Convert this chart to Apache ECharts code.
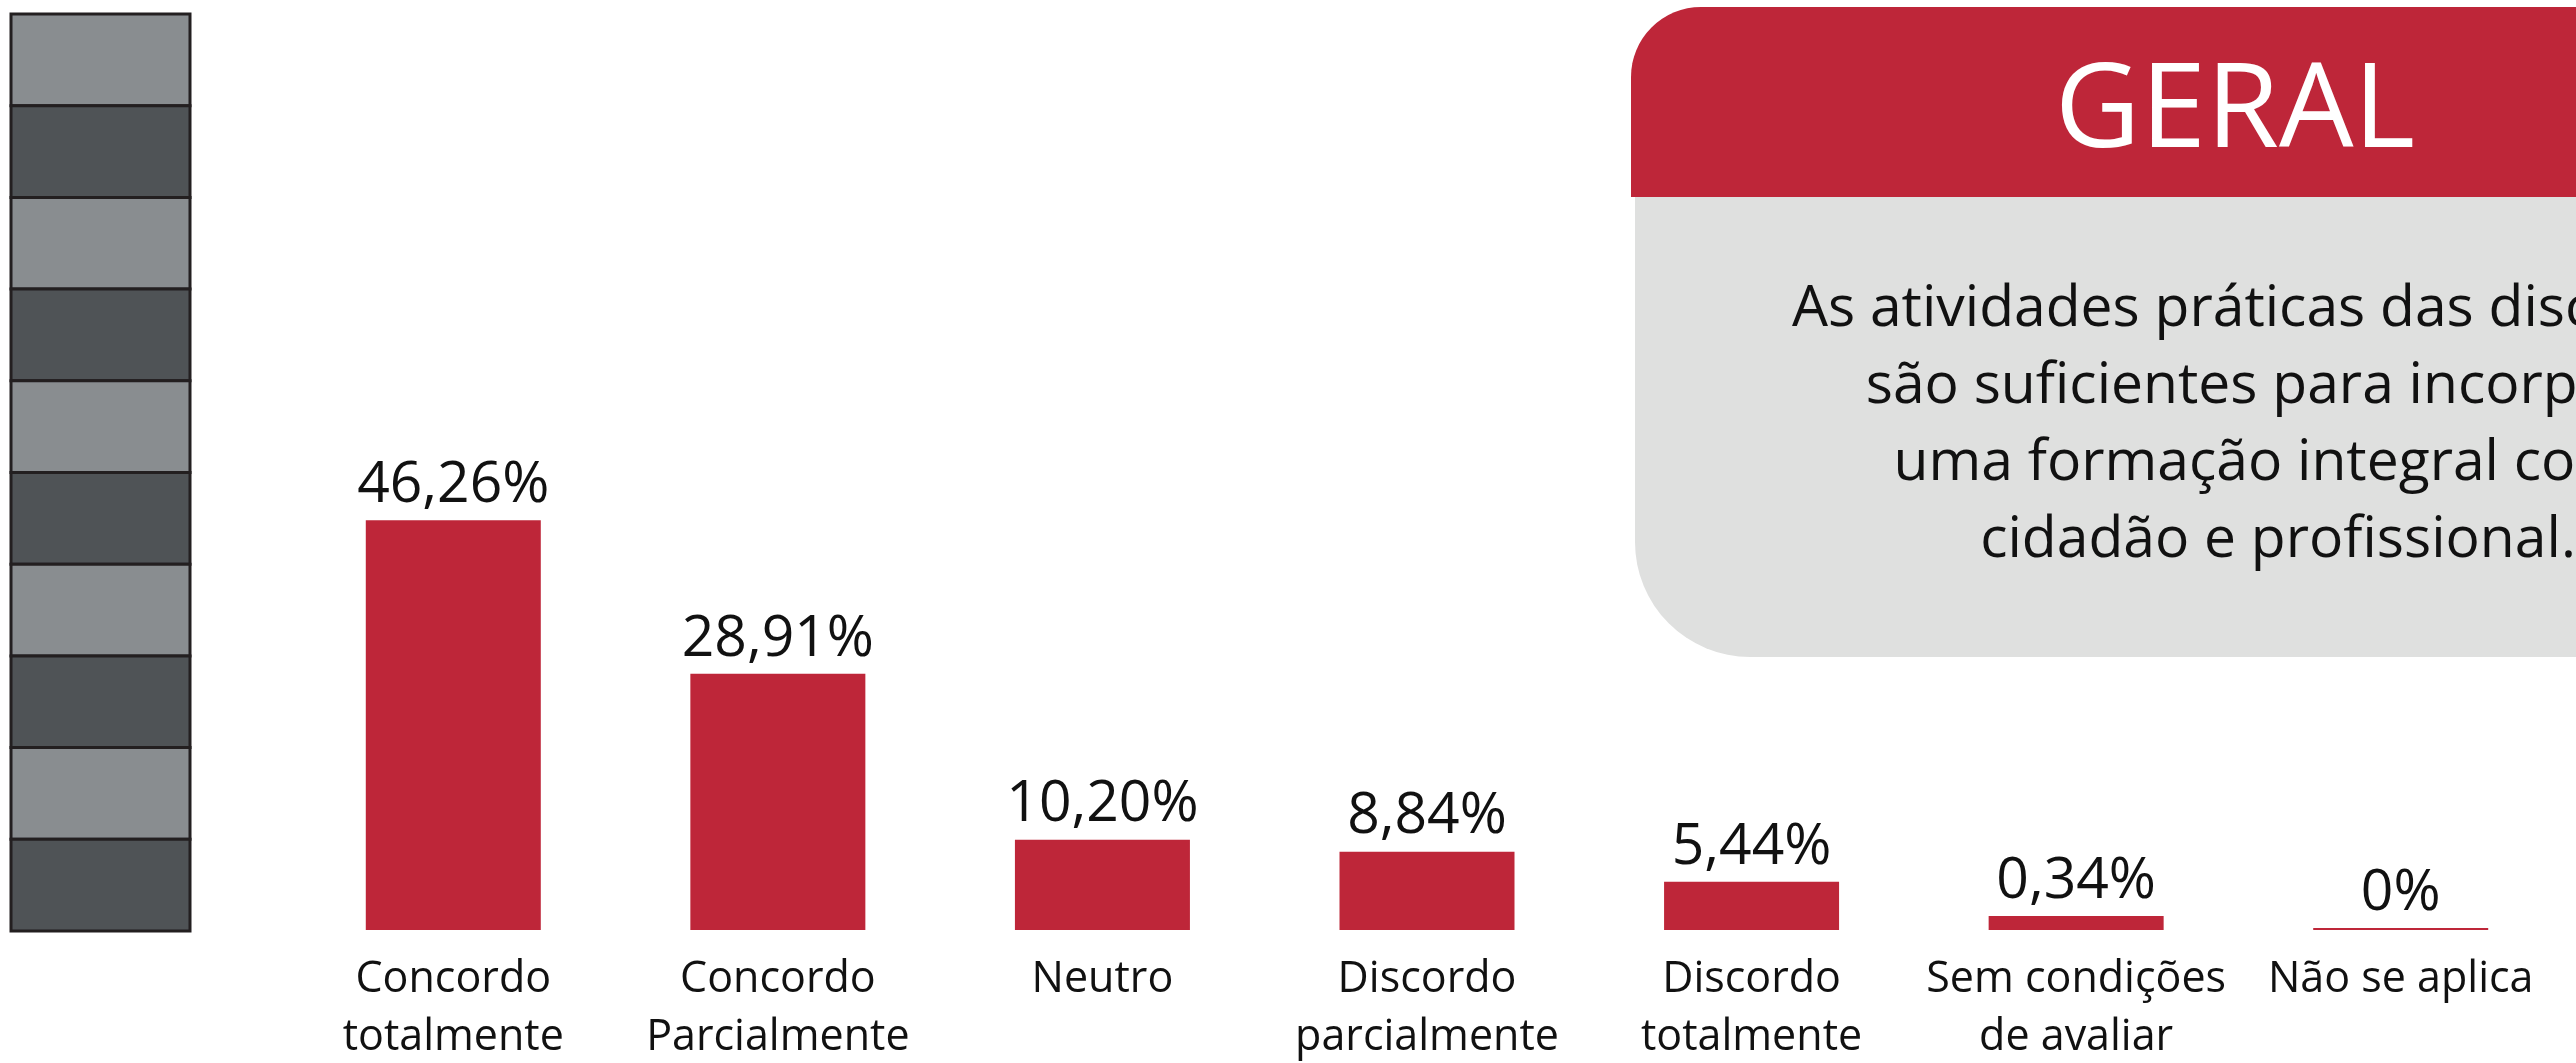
<!DOCTYPE html>
<html>
<head>
<meta charset="utf-8">
<script src="https://cdn.jsdelivr.net/npm/echarts@6/dist/echarts.min.js"></script>
<style>
  html, body { margin: 0; padding: 0; background: #ffffff; }
  #chart { width: 2576px; height: 1063px; }
</style>
</head>
<body>
<div id="chart"></div>
<script>
const categories = [
  'Concordo\ntotalmente',
  'Concordo\nParcialmente',
  'Neutro',
  'Discordo\nparcialmente',
  'Discordo\ntotalmente',
  'Sem condições\nde avaliar',
  'Não se aplica'
];
const values = [46.26, 28.91, 10.20, 8.84, 5.44, 0.34, 0];
const panelTitle = 'GERAL';
const panelText = 'As atividades práticas das disciplinas\nsão suficientes para incorporar\numa formação integral como\ncidadão e profissional.';

const FONT = "'Open Sans', 'Noto Sans', sans-serif";
const RED = '#be2639';

function fmt(v) {
  return v === 0 ? '0%' : v.toFixed(2).replace('.', ',') + '%';
}

const nonZero = values.map(v => (v === 0 ? '-' : v));
const zeroOnly = values.map(v => (v === 0 ? 0 : '-'));

// decorative stripes on the left
const stripes = [];
const stripeCount = 10, sx = 11, sy = 14, sw = 179, sh = 917 / 10;
for (let i = 0; i < stripeCount; i++) {
  stripes.push({
    type: 'rect',
    shape: { x: sx, y: sy + i * sh, width: sw, height: sh },
    style: { fill: i % 2 === 0 ? '#898d90' : '#4f5356', stroke: '#231f20', lineWidth: 3 },
    silent: true
  });
}

const chart = echarts.init(document.getElementById('chart'), null, { renderer: 'canvas' });
chart.setOption({
  backgroundColor: '#ffffff',
  animation: false,
  grid: { left: 291, width: 2272, top: 487, height: 443, containLabel: false, outerBoundsMode: 'none' },
  xAxis: {
    type: 'category',
    data: categories,
    axisLine: { show: false },
    axisTick: { show: false },
    axisLabel: {
      interval: 0,
      margin: 21,
      color: '#111111',
      fontFamily: FONT,
      fontSize: 43,
      lineHeight: 58
    }
  },
  yAxis: {
    type: 'value',
    min: 0,
    max: 50,
    show: false,
    splitLine: { show: false }
  },
  series: [
    {
      type: 'bar',
      data: nonZero,
      barWidth: 175,
      barGap: '-100%',
      barMinHeight: 14,
      itemStyle: { color: RED },
      label: {
        show: true,
        position: 'top',
        distance: 6,
        color: '#111111',
        fontFamily: FONT,
        fontSize: 57,
        formatter: p => fmt(p.value)
      }
    },
    {
      type: 'bar',
      data: zeroOnly,
      barWidth: 175,
      barGap: '-100%',
      barMinHeight: 2,
      itemStyle: { color: RED },
      label: {
        show: true,
        position: 'top',
        distance: 6,
        color: '#111111',
        fontFamily: FONT,
        fontSize: 57,
        formatter: p => fmt(p.value)
      }
    }
  ],
  graphic: [
    ...stripes,
    {
      type: 'rect',
      shape: { x: 1635, y: 190, width: 1100, height: 467, r: [0, 0, 0, 115] },
      style: { fill: '#dfe0df' },
      silent: true
    },
    {
      type: 'rect',
      shape: { x: 1631, y: 7, width: 1100, height: 190, r: [70, 0, 0, 0] },
      style: { fill: RED },
      silent: true
    },
    {
      type: 'text',
      x: 2235,
      y: 113,
      style: {
        text: panelTitle,
        fill: '#ffffff',
        font: "118px " + FONT,
        textAlign: 'center',
        textVerticalAlign: 'middle'
      },
      silent: true
    },
    {
      type: 'text',
      x: 2278,
      y: 425,
      style: {
        text: panelText,
        fill: '#111111',
        font: "57px " + FONT,
        lineHeight: 77,
        textAlign: 'center',
        textVerticalAlign: 'middle'
      },
      silent: true
    }
  ]
});
</script>
</body>
</html>
